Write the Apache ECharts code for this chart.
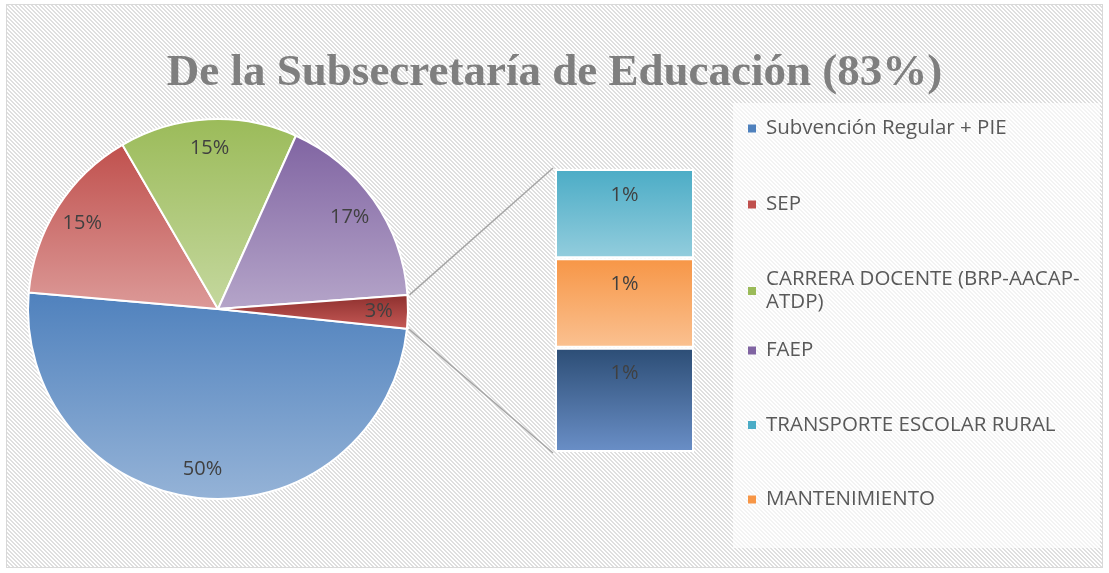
<!DOCTYPE html>
<html>
<head>
<meta charset="utf-8">
<title>De la Subsecretaría de Educación</title>
<script src="https://cdn.jsdelivr.net/npm/echarts@6/dist/echarts.min.js"></script>
<style>
  html, body { margin: 0; padding: 0; background: #fff; }
  #frame { position: absolute; left: 6px; top: 4px; width: 1095px; height: 562px; border: 1px solid #d9d9d9; }
  #chart { position: absolute; left: 0; top: 0; width: 1109px; height: 573px; }
</style>
</head>
<body>
<div id="frame"></div>
<div id="chart"></div>
<script>
// pie slices, clockwise from the right side
const pieNames = ["Subvención Regular + PIE", "SEP", "CARRERA DOCENTE (BRP-AACAP-ATDP)", "FAEP"];
const pieValues = [50, 15.3, 15.2, 17.2];
// the small items split out into the bar (bottom to top)
const barNames = ["Otros programas", "MANTENIMIENTO", "TRANSPORTE ESCOLAR RURAL"];
const barValues = [1.05, 0.9, 0.9];
const otherName = "Otros";
const legendNamesA = ["Subvención Regular + PIE", "SEP", "CARRERA DOCENTE (BRP-AACAP-ATDP)"];
const legendNamesB = ["FAEP", "TRANSPORTE ESCOLAR RURAL", "MANTENIMIENTO"];
const titleText = "De la Subsecretaría de Educación (83%)";

// [top, bottom] gradient colours
const colors = {
  "Subvención Regular + PIE": ["#4f81bd", "#95b3d7"],
  "SEP": ["#c0504d", "#dc9a98"],
  "CARRERA DOCENTE (BRP-AACAP-ATDP)": ["#9bbb59", "#c5d89f"],
  "FAEP": ["#8064a2", "#b5a5c9"],
  "TRANSPORTE ESCOLAR RURAL": ["#4bacc6", "#93cddd"],
  "MANTENIMIENTO": ["#f79646", "#fac191"],
  "Otros programas": ["#2c4d75", "#6a8fc7"],
  "Otros": ["#8c2f2d", "#c75a57"],
};

// layout
const pieCenter = [218, 309];
const pieRadius = 190;
const startAngle = -6;
const gridBox = { left: 555, top: 169, width: 139, height: 283 };

// hatched background of the chart area
(function () {
  const c = document.createElement("canvas");
  c.width = 4;
  c.height = 4;
  const ctx = c.getContext("2d");
  ctx.fillStyle = "#ffffff";
  ctx.fillRect(0, 0, 4, 4);
  ctx.fillStyle = "#dfdfdf";
  for (let y = 0; y < 4; y++) {
    for (let x = 0; x < 4; x++) {
      if ((((x - y) % 4) + 4) % 4 < 2) ctx.fillRect(x, y, 1, 1);
    }
  }
  document.getElementById("frame").style.backgroundImage = "url(" + c.toDataURL() + ")";
})();

function grad(name) {
  const c = colors[name];
  return new echarts.graphic.LinearGradient(0, 0, 0, 1, [
    { offset: 0, color: c[0] },
    { offset: 1, color: c[1] },
  ]);
}

const otherValue = barValues.reduce((a, b) => a + b, 0);
const total = pieValues.reduce((a, b) => a + b, 0) + otherValue;
const pct = (v) => Math.round((v / total) * 100) + "%";

const pieData = pieNames.map((n, i) => ({ name: n, value: pieValues[i], itemStyle: { color: grad(n) } }));
pieData.push({ name: otherName, value: otherValue, itemStyle: { color: grad(otherName) } });

const labelFont = { fontFamily: "Open Sans", fontSize: 20, color: "#404040" };

function makeLegend(names, top, gap) {
  return {
    orient: "vertical",
    left: 748,
    top: top,
    padding: 0,
    itemGap: gap,
    itemWidth: 8,
    itemHeight: 8,
    icon: "rect",
    itemStyle: { borderWidth: 0 },
    data: names.map((n) => ({ name: n, itemStyle: { color: colors[n][0] } })),
    formatter: (n) => (n === "CARRERA DOCENTE (BRP-AACAP-ATDP)" ? "CARRERA DOCENTE (BRP-AACAP-\nATDP)" : n),
    textStyle: { fontFamily: "Open Sans", fontSize: 20.5, color: "#595959", lineHeight: 23, height: 23, padding: [0, 0, 0, 5] },
  };
}

const chart = echarts.init(document.getElementById("chart"));

const option = {
  backgroundColor: "transparent",
  animation: false,
  title: {
    text: titleText,
    left: "center",
    top: 46,
    textStyle: { fontFamily: "Liberation Serif", fontWeight: "bold", fontSize: 45, color: "#7f7f7f" },
  },
  legend: [makeLegend(legendNamesA, 117, 53), makeLegend(legendNamesB, 339, 51.5)],
  grid: { left: gridBox.left, top: gridBox.top, width: gridBox.width, height: gridBox.height },
  xAxis: { type: "category", data: [""], show: false },
  yAxis: { type: "value", min: 0, max: otherValue, show: false },
  series: [
    {
      type: "pie",
      center: pieCenter,
      radius: pieRadius,
      startAngle: startAngle,
      clockwise: true,
      avoidLabelOverlap: false,
      itemStyle: { borderColor: "#fff", borderWidth: 2 },
      label: { show: false },
      labelLine: { show: false },
      emphasis: { disabled: true },
      data: pieData,
    },
    {
      // label carrier: labels sit near the outer edge like the original
      type: "pie",
      center: pieCenter,
      radius: [pieRadius * 0.66, pieRadius],
      startAngle: startAngle,
      clockwise: true,
      silent: true,
      avoidLabelOverlap: false,
      itemStyle: { color: "rgba(0,0,0,0)", borderWidth: 0 },
      label: Object.assign({ show: true, position: "inside", formatter: (p) => pct(p.value) }, labelFont),
      labelLine: { show: false },
      emphasis: { disabled: true },
      data: pieData.map((d) => ({ name: d.name, value: d.value })),
    },
  ].concat(
    barNames.map((n, i) => ({
      type: "bar",
      name: n,
      stack: "otros",
      barCategoryGap: "0%",
      data: [barValues[i]],
      itemStyle: { color: grad(n), borderColor: "#fff", borderWidth: 2 },
      label: Object.assign({ show: true, position: "insideTop", distance: 16, formatter: (p) => pct(p.value) }, labelFont),
      emphasis: { disabled: true },
    }))
  ),
};

chart.setOption(option);

// connector lines from the small slice to the bar, plus the legend panel
const rad = Math.PI / 180;
const otherAngle = (otherValue / total) * 360;
const aUp = (startAngle + otherAngle) * rad;
const aDown = startAngle * rad;
const yTop = chart.convertToPixel({ yAxisIndex: 0 }, otherValue);
const yBot = chart.convertToPixel({ yAxisIndex: 0 }, 0);
const lineStyle = { stroke: "#a6a6a6", lineWidth: 1.5 };
chart.setOption({
  graphic: [
    {
      type: "rect",
      z: 1,
      silent: true,
      shape: { x: 733, y: 103, width: 367, height: 445 },
      style: { fill: "rgba(255,255,255,0.62)" },
    },
    {
      type: "line",
      shape: {
        x1: pieCenter[0] + (pieRadius + 2) * Math.cos(aUp),
        y1: pieCenter[1] - (pieRadius + 2) * Math.sin(aUp),
        x2: gridBox.left - 2,
        y2: yTop - 1,
      },
      style: lineStyle,
    },
    {
      type: "line",
      shape: {
        x1: pieCenter[0] + (pieRadius + 2) * Math.cos(aDown),
        y1: pieCenter[1] - (pieRadius + 2) * Math.sin(aDown),
        x2: gridBox.left - 2,
        y2: yBot + 1,
      },
      style: lineStyle,
    },
  ],
});

window.addEventListener("resize", () => chart.resize());
</script>
</body>
</html>
